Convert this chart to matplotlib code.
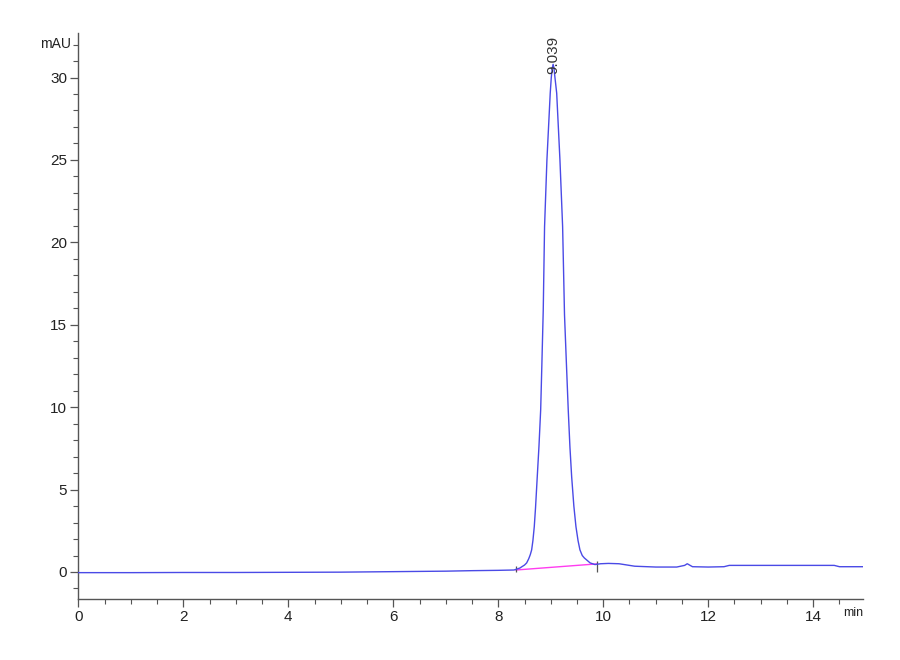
import matplotlib

matplotlib.use("Agg")
import matplotlib.pyplot as plt
from matplotlib.ticker import MultipleLocator

plt.rcParams["font.family"] = ["Liberation Sans Narrow", "Liberation Sans", "DejaVu Sans"]

# chromatogram trace (time in min, signal in mAU)
time_min = [
    0.0, 1.0, 2.0, 3.0, 4.0, 5.0, 6.0, 7.0, 7.5, 8.0, 8.3, 8.413, 8.45,
    8.5, 8.541, 8.58, 8.61, 8.636, 8.66, 8.686, 8.71, 8.743, 8.775, 8.808,
    8.83, 8.857, 8.882, 8.927, 8.99, 9.01, 9.03, 9.045, 9.06, 9.08, 9.113,
    9.175, 9.226, 9.262, 9.3, 9.333, 9.365, 9.398, 9.44, 9.48, 9.52, 9.556,
    9.6, 9.64, 9.684, 9.75, 9.842, 9.95, 10.1, 10.3, 10.6, 11.0, 11.4,
    11.55, 11.6, 11.7, 12.0, 12.3, 12.4, 13.0, 14.0, 14.4, 14.5, 14.95,
]
signal_mau = [
    -0.04, -0.04, -0.03, -0.03, -0.02, -0.01, 0.02, 0.05, 0.08, 0.1, 0.12,
    0.24, 0.32, 0.42, 0.55, 0.8, 1.05, 1.34, 1.9, 2.75, 3.9, 5.79, 7.6,
    9.84, 12.5, 15.9, 20.95, 25.0, 29.05, 30.0, 30.6, 30.8, 30.6, 30.0,
    29.05, 25.0, 20.95, 15.6, 12.5, 9.84, 7.6, 5.79, 4.0, 2.75, 1.9, 1.34,
    1.0, 0.85, 0.73, 0.55, 0.45, 0.5, 0.52, 0.5, 0.35, 0.3, 0.3, 0.4, 0.5,
    0.32, 0.3, 0.32, 0.4, 0.4, 0.4, 0.4, 0.32, 0.32,
]

# integration baseline under the main peak
baseline_time = [8.337, 9.874]
baseline_mau = [0.12, 0.49]

peak_time = 9.039
peak_height = 30.8
peak_label = "9.039"

fig = plt.figure(figsize=(9, 6.6), dpi=100)
ax = fig.add_axes([0.087, 0.0924, 0.872, 0.8576])

ax.plot(time_min, signal_mau, color="#4a4ae6", lw=1.0, zorder=3)
ax.plot(baseline_time, baseline_mau, color="#ff3cf0", lw=1.0, zorder=2)
ax.vlines(baseline_time[0], baseline_mau[0] - 0.12, baseline_mau[0] + 0.25, color="#555555", lw=0.9)
ax.vlines(baseline_time[1], baseline_mau[1] - 0.5, baseline_mau[1] + 0.15, color="#555555", lw=0.9)

ax.text(peak_time, peak_height - 0.6, peak_label, rotation=90, ha="center", va="bottom",
        fontsize=11, color="#333333")

ax.set_xlim(0, 14.95)
ax.set_ylim(-1.64, 32.7)
ax.xaxis.set_major_locator(MultipleLocator(2))
ax.xaxis.set_minor_locator(MultipleLocator(0.5))
ax.yaxis.set_major_locator(MultipleLocator(5))
ax.yaxis.set_minor_locator(MultipleLocator(1))

for side in ["top", "right"]:
    ax.spines[side].set_visible(False)
for side in ["left", "bottom"]:
    ax.spines[side].set_color("#555555")
    ax.spines[side].set_linewidth(1.0)

ax.tick_params(which="major", direction="out", length=6, width=0.9, color="#555555",
               labelsize=11, labelcolor="#222222", pad=2)
ax.tick_params(which="minor", direction="out", length=3.5, width=0.8, color="#555555")

ax.text(-0.009, 0.981, "mAU", transform=ax.transAxes, ha="right", va="center",
        fontsize=10, color="#222222")
ax.text(1.0, -0.025, "min", transform=ax.transAxes, ha="right", va="center",
        fontsize=9, color="#222222")

fig.savefig("out.png", dpi=100)
